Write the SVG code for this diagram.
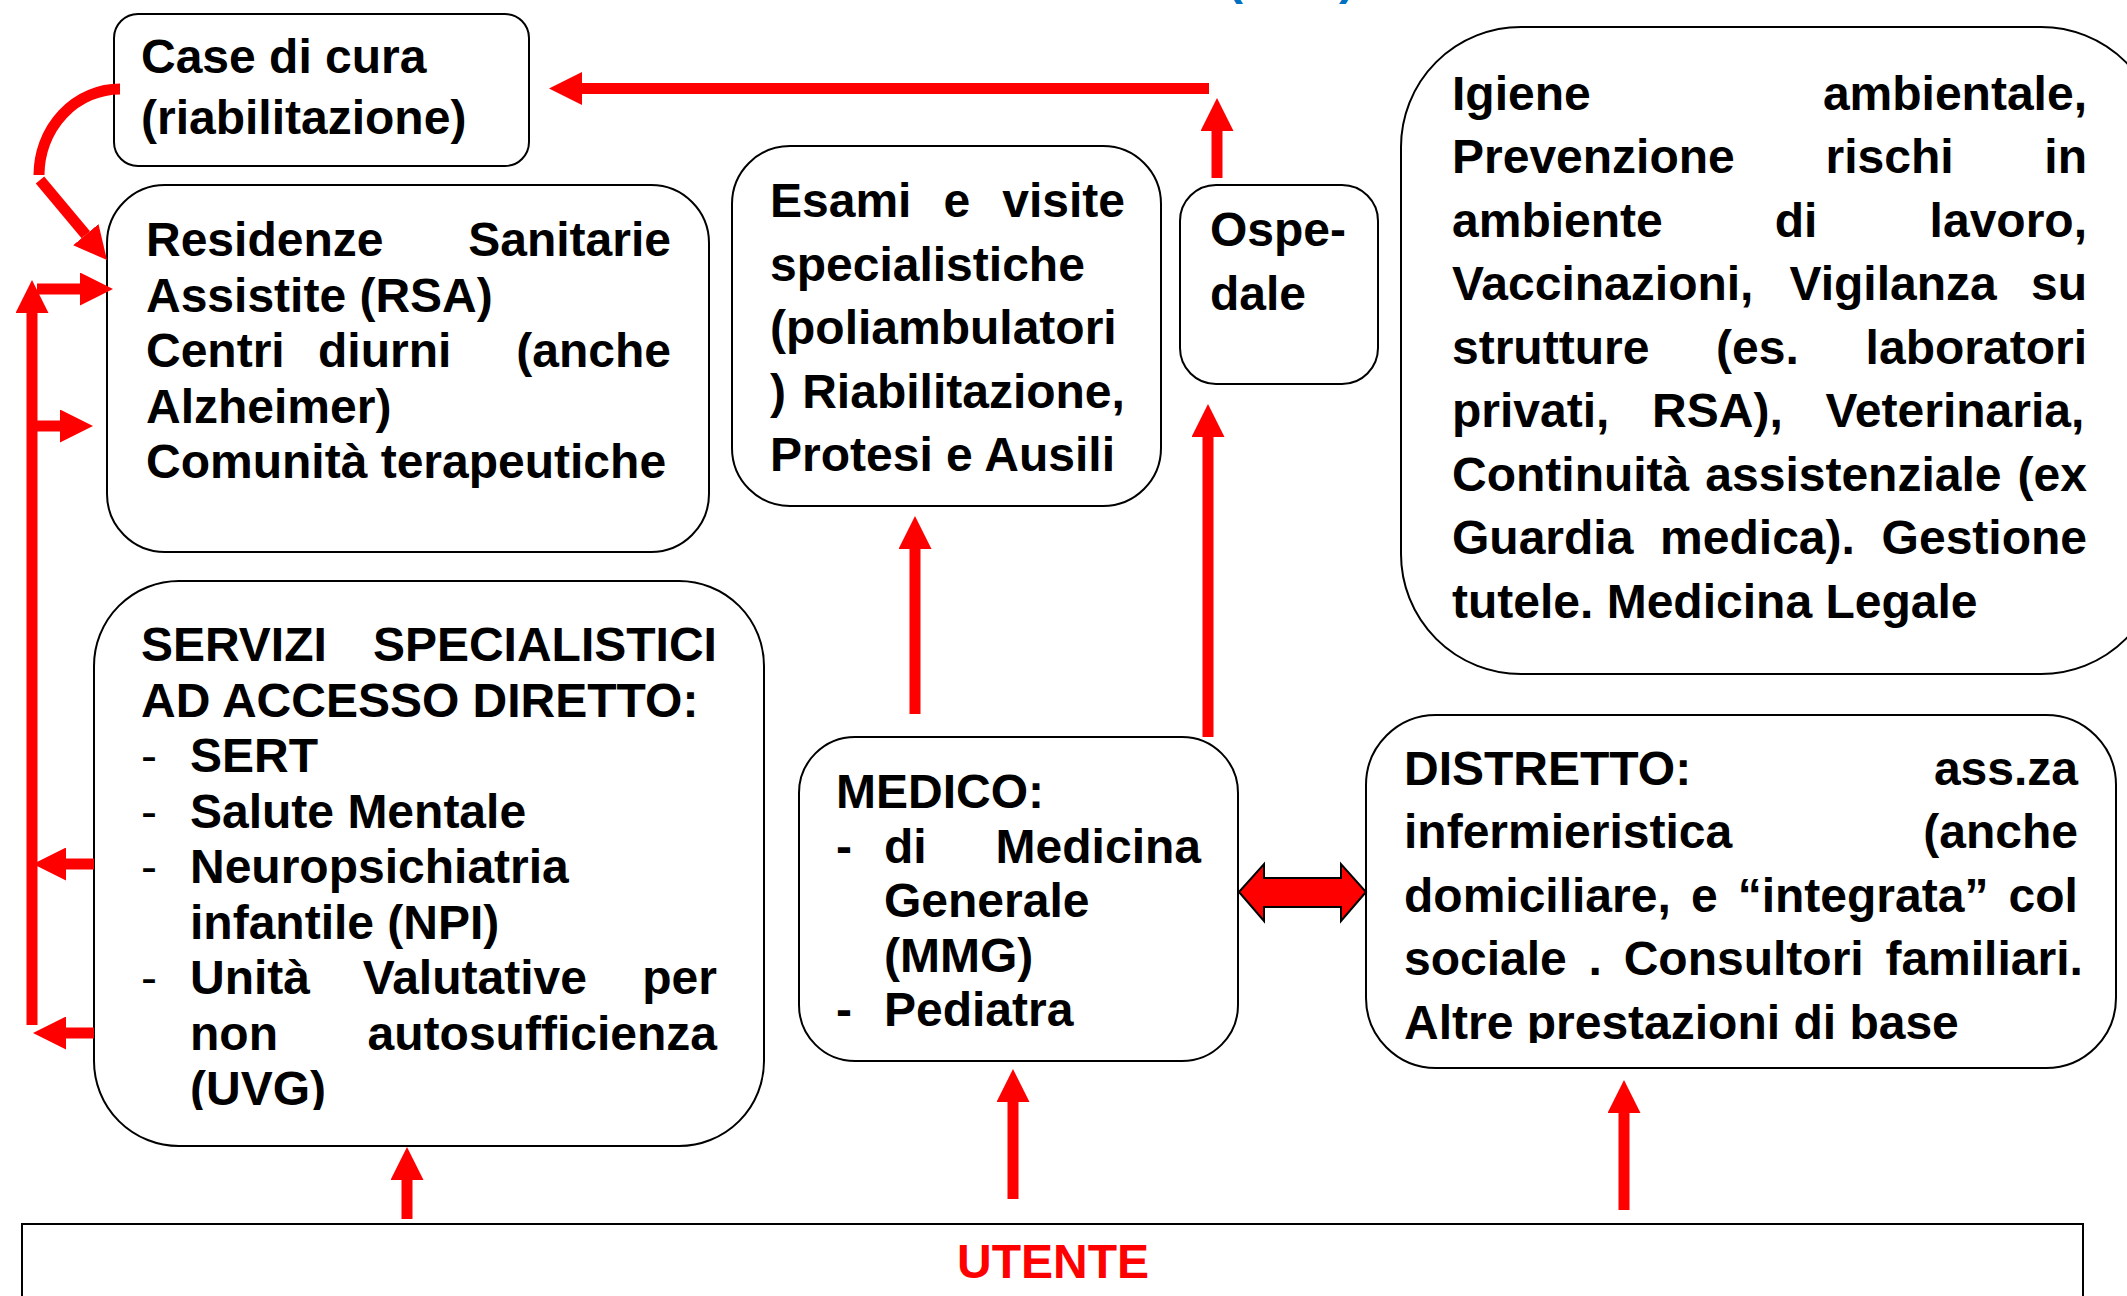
<svg xmlns="http://www.w3.org/2000/svg" width="2127" height="1296" viewBox="0 0 2127 1296">
<style>
.box{fill:#fff;stroke:#000;stroke-width:2}
text{font-family:"Liberation Sans",Arial,sans-serif;font-weight:bold;font-size:48px;fill:#000}
.dash{font-weight:normal}
.red{fill:#ff0000}
.blue{fill:#0070c0}
.conn{stroke:#ff0000;stroke-width:11;fill:none}
</style>
<defs>
<marker id="ah" viewBox="0 0 10 10" refX="0" refY="5" markerWidth="3" markerHeight="3" orient="auto" markerUnits="strokeWidth">
<path d="M0,0 L10,5 L0,10 z" fill="#ff0000"/>
</marker>
<clipPath id="clipServ"><rect x="94" y="581" width="670" height="529"/></clipPath>
<clipPath id="clipDist"><rect x="1366" y="715" width="750" height="328"/></clipPath>
</defs>

<text class="blue" x="1227" y="-6">(ASL)</text>

<g id="case-di-cura">
<rect class="box" x="114" y="14" width="415" height="152" rx="24"/>
<text x="141" y="73">Case di cura</text>
<text x="141" y="134">(riabilitazione)</text>
</g>

<g id="residenze">
<rect class="box" x="107" y="185" width="602" height="367" rx="58"/>
<text x="146" y="256">Residenze</text><text x="468.2" y="256">Sanitarie</text>
<text x="146" y="311.5">Assistite (RSA)</text>
<text x="146" y="367">Centri</text><text x="318" y="367">diurni</text><text x="516.3" y="367">(anche</text>
<text x="146" y="422.5">Alzheimer)</text>
<text x="146" y="478">Comunità terapeutiche</text>
</g>

<g id="esami">
<rect class="box" x="732" y="146" width="429" height="360" rx="58"/>
<text x="770" y="217">Esami</text><text x="943.5" y="217">e</text><text x="1002.3" y="217">visite</text>
<text x="770" y="280.5">specialistiche</text>
<text x="770" y="344">(poliambulatori</text>
<text x="770" y="407.5">)</text><text x="802.2" y="407.5">Riabilitazione,</text>
<text x="770" y="471">Protesi e Ausili</text>
</g>

<g id="ospedale">
<rect class="box" x="1180" y="185" width="198" height="199" rx="36"/>
<text x="1210" y="246">Ospe-</text>
<text x="1210" y="310">dale</text>
</g>

<g id="igiene">
<rect class="box" x="1401" y="27" width="760" height="647" rx="120"/>
<text x="1452" y="109.5">Igiene</text><text x="1822.9" y="109.5">ambientale,</text>
<text x="1452" y="173">Prevenzione</text><text x="1825.5" y="173">rischi</text><text x="2044.3" y="173">in</text>
<text x="1452" y="236.5">ambiente</text><text x="1774.8" y="236.5">di</text><text x="1929.6" y="236.5">lavoro,</text>
<text x="1452" y="300">Vaccinazioni,</text><text x="1789.5" y="300">Vigilanza</text><text x="2031" y="300">su</text>
<text x="1452" y="363.5">strutture</text><text x="1716" y="363.5">(es.</text><text x="1865.6" y="363.5">laboratori</text>
<text x="1452" y="427">privati,</text><text x="1652.1" y="427">RSA),</text><text x="1825.5" y="427">Veterinaria,</text>
<text x="1452" y="490.5">Continuità</text><text x="1705.3" y="490.5">assistenziale</text><text x="2017.6" y="490.5">(ex</text>
<text x="1452" y="554">Guardia</text><text x="1660.1" y="554">medica).</text><text x="1881.6" y="554">Gestione</text>
<text x="1452" y="617.5">tutele. Medicina Legale</text>
</g>

<g id="servizi">
<rect class="box" x="94" y="581" width="670" height="565" rx="85"/>
<g clip-path="url(#clipServ)">
<text x="141" y="661">SERVIZI</text><text x="372.9" y="661">SPECIALISTICI</text>
<text x="141" y="716.5">AD ACCESSO DIRETTO:</text>
<text class="dash" x="141" y="772">-</text><text x="190" y="772">SERT</text>
<text class="dash" x="141" y="827.5">-</text><text x="190" y="827.5">Salute Mentale</text>
<text class="dash" x="141" y="883">-</text><text x="190" y="883">Neuropsichiatria</text>
<text x="190" y="938.5">infantile (NPI)</text>
<text class="dash" x="141" y="994">-</text><text x="190" y="994">Unità</text><text x="362.8" y="994">Valutative</text><text x="642.3" y="994">per</text>
<text x="190" y="1049.5">non</text><text x="367.6" y="1049.5">autosufficienza</text>
<text x="190" y="1105">(UVG)</text>
</g>
</g>

<g id="medico">
<rect class="box" x="799" y="737" width="439" height="324" rx="56"/>
<text x="836" y="808">MEDICO:</text>
<text x="836" y="862.5">-</text><text x="884" y="862.5">di</text><text x="995.6" y="862.5">Medicina</text>
<text x="884" y="917">Generale</text>
<text x="884" y="971.5">(MMG)</text>
<text x="836" y="1026">-</text><text x="884" y="1026">Pediatra</text>
</g>

<g id="distretto">
<rect class="box" x="1366" y="715" width="750" height="353" rx="70"/>
<g clip-path="url(#clipDist)">
<text x="1404" y="785">DISTRETTO:</text><text x="1933.9" y="785">ass.za</text>
<text x="1404" y="848">infermieristica</text><text x="1923.3" y="848">(anche</text>
<text x="1404" y="911.5">domiciliare,</text><text x="1690.9" y="911.5">e</text><text x="1737.7" y="911.5">“integrata”</text><text x="2008.6" y="911.5">col</text>
<text x="1404" y="975">sociale</text><text x="1588.6" y="975">.</text><text x="1623.7" y="975">Consultori</text><text x="1885.4" y="975">familiari.</text>
<text x="1404" y="1038.5">Altre prestazioni di base</text>
</g>
</g>

<g id="utente">
<rect class="box" x="22" y="1224" width="2061" height="100"/>
<text class="red" x="1053" y="1278" text-anchor="middle">UTENTE</text>
</g>

<g id="connectors">
<line class="conn" x1="1217" y1="178" x2="1217" y2="131" marker-end="url(#ah)"/>
<line class="conn" x1="1209" y1="88.5" x2="582" y2="88.5" marker-end="url(#ah)"/>
<path class="conn" d="M120,89 A81,86 0 0 0 39,175"/>
<line class="conn" x1="40" y1="180" x2="85.8" y2="234.7" marker-end="url(#ah)"/>
<line class="conn" x1="32" y1="1025" x2="32" y2="313" marker-end="url(#ah)"/>
<line class="conn" x1="37" y1="289" x2="80" y2="289" marker-end="url(#ah)"/>
<line class="conn" x1="32" y1="426" x2="60" y2="426" marker-end="url(#ah)"/>
<line class="conn" x1="94" y1="864" x2="66" y2="864" marker-end="url(#ah)"/>
<line class="conn" x1="94" y1="1033" x2="66" y2="1033" marker-end="url(#ah)"/>
<line class="conn" x1="407" y1="1219" x2="407" y2="1180" marker-end="url(#ah)"/>
<line class="conn" x1="1013" y1="1199" x2="1013" y2="1102" marker-end="url(#ah)"/>
<line class="conn" x1="1624" y1="1210" x2="1624" y2="1113" marker-end="url(#ah)"/>
<line class="conn" x1="915" y1="714" x2="915" y2="549" marker-end="url(#ah)"/>
<line class="conn" x1="1208" y1="737" x2="1208" y2="437" marker-end="url(#ah)"/>
<polygon points="1239,892 1264,864 1264,878 1341,878 1341,864 1366,892 1341,921 1341,907 1264,907 1264,921" fill="#ff0000" stroke="#000" stroke-width="2" stroke-linejoin="miter"/>
</g>
</svg>
